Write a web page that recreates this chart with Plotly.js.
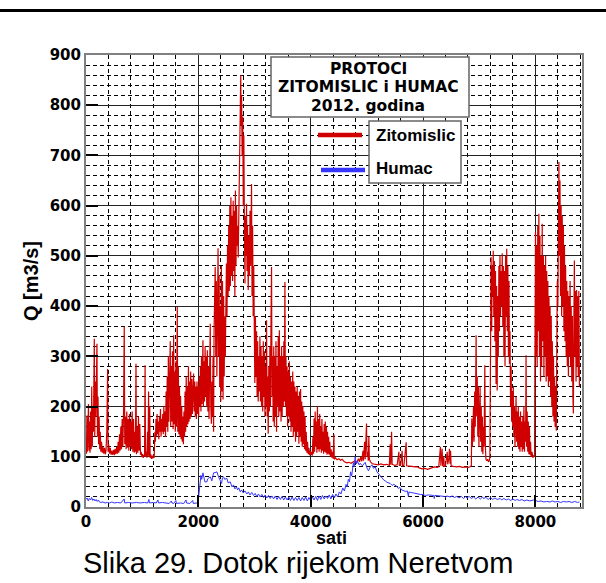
<!DOCTYPE html>
<html>
<head>
<meta charset="utf-8">
<script src="https://cdn.plot.ly/plotly-3.0.1.min.js"></script>
<style>
  html, body { margin: 0; padding: 0; background: #fff; }
  #chart { width: 606px; height: 583px; }
</style>
</head>
<body>
<div id="chart"></div>
<script>
// Hourly discharge, Zitomislic station (hours of 2012, m3/s)
const zitHours = [
  0, 8, 16, 24, 34, 44, 52, 62, 72, 82,
  92, 102, 112, 122, 132, 140, 148, 156, 166, 176,
  186, 195, 204, 214, 224, 234, 244, 254, 264, 276,
  290, 302, 316, 330, 344, 356, 370, 378, 385, 392,
  404, 418, 432, 446, 460, 476, 490, 504, 518, 532,
  546, 560, 572, 584, 596, 608, 620, 632, 644, 656,
  668, 681, 690, 702, 714, 726, 738, 750, 762, 774,
  786, 798, 810, 822, 834, 846, 858, 870, 880, 890,
  898, 910, 922, 934, 946, 958, 970, 982, 994, 1006,
  1018, 1030, 1042, 1052, 1060, 1072, 1084, 1096, 1104, 1114,
  1122, 1134, 1142, 1154, 1166, 1178, 1190, 1202, 1214, 1226,
  1236, 1246, 1256, 1266, 1276, 1286, 1296, 1306, 1316, 1326,
  1336, 1346, 1356, 1366, 1376, 1386, 1396, 1406, 1416, 1426,
  1436, 1446, 1456, 1466, 1476, 1486, 1500, 1508, 1518, 1528,
  1540, 1550, 1560, 1570, 1580, 1590, 1600, 1610, 1616, 1625,
  1634, 1644, 1654, 1664, 1674, 1684, 1694, 1704, 1714, 1724,
  1734, 1744, 1754, 1764, 1774, 1784, 1794, 1804, 1814, 1824,
  1834, 1844, 1854, 1864, 1874, 1884, 1894, 1904, 1915, 1926,
  1936, 1946, 1956, 1966, 1976, 1986, 1996, 2006, 2016, 2026,
  2036, 2046, 2056, 2066, 2076, 2082, 2090, 2100, 2110, 2120,
  2130, 2140, 2150, 2160, 2170, 2180, 2190, 2200, 2212, 2222,
  2232, 2242, 2252, 2262, 2271, 2280, 2290, 2300, 2310, 2320,
  2330, 2340, 2351, 2360, 2370, 2380, 2390, 2400, 2410, 2420,
  2430, 2440, 2450, 2460, 2470, 2480, 2490, 2500, 2510, 2520,
  2530, 2540, 2550, 2560, 2570, 2580, 2590, 2600, 2610, 2620,
  2630, 2640, 2650, 2660, 2670, 2680, 2690, 2700, 2710, 2720,
  2730, 2740, 2755, 2762, 2770, 2780, 2790, 2800, 2810, 2820,
  2830, 2840, 2850, 2858, 2866, 2876, 2888, 2898, 2910, 2920,
  2930, 2947, 2956, 2966, 2976, 2986, 2996, 3006, 3016, 3026,
  3036, 3046, 3056, 3066, 3076, 3086, 3096, 3106, 3116, 3126,
  3136, 3146, 3156, 3166, 3176, 3186, 3196, 3206, 3214, 3224,
  3234, 3244, 3254, 3264, 3274, 3284, 3294, 3303, 3312, 3322,
  3332, 3342, 3352, 3362, 3372, 3382, 3392, 3402, 3412, 3422,
  3432, 3442, 3452, 3462, 3472, 3482, 3492, 3502, 3512, 3522,
  3530, 3541, 3550, 3560, 3570, 3580, 3590, 3600, 3610, 3620,
  3630, 3640, 3650, 3660, 3670, 3680, 3690, 3700, 3710, 3720,
  3730, 3740, 3750, 3760, 3770, 3780, 3790, 3800, 3810, 3820,
  3830, 3840, 3850, 3860, 3870, 3880, 3890, 3900, 3910, 3920,
  3932, 3944, 3956, 3968, 3980, 3992, 4004, 4016, 4028, 4040,
  4050, 4060, 4070, 4080, 4090, 4100, 4110, 4120, 4130, 4140,
  4150, 4160, 4170, 4180, 4190, 4200, 4210, 4220, 4230, 4240,
  4250, 4260, 4270, 4280, 4290, 4300, 4310, 4320, 4330, 4340,
  4352, 4364, 4376, 4390, 4400, 4413, 4420, 4440, 4470, 4500,
  4530, 4560, 4600, 4640, 4680, 4720, 4760, 4790, 4820, 4850,
  4870, 4890, 4910, 4930, 4940, 4960, 4970, 4985, 4994, 5002,
  5015, 5025, 5035, 5045, 5065, 5100, 5150, 5200, 5250, 5300,
  5350, 5400, 5415, 5425, 5440, 5450, 5470, 5500, 5540, 5570,
  5578, 5600, 5628, 5635, 5660, 5700, 5708, 5750, 5800, 5850,
  5900, 5930, 5980, 6030, 6080, 6130, 6162, 6200, 6250, 6280,
  6310, 6318, 6340, 6350, 6370, 6378, 6400, 6430, 6440, 6460,
  6470, 6480, 6490, 6500, 6540, 6600, 6650, 6700, 6750, 6800,
  6840, 6860, 6868, 6878, 6888, 6898, 6908, 6920, 6930, 6945,
  6955, 6965, 6975, 6985, 6995, 7005, 7016, 7026, 7036, 7046,
  7056, 7066, 7076, 7086, 7100, 7110, 7120, 7135, 7150, 7165,
  7180, 7190, 7200, 7212, 7222, 7232, 7241, 7250, 7260, 7270,
  7280, 7290, 7300, 7310, 7320, 7330, 7340, 7350, 7360, 7370,
  7380, 7390, 7400, 7410, 7420, 7430, 7440, 7450, 7460, 7470,
  7480, 7490, 7500, 7510, 7520, 7530, 7538, 7548, 7558, 7568,
  7578, 7588, 7597, 7607, 7617, 7627, 7637, 7647, 7656, 7666,
  7676, 7686, 7696, 7706, 7716, 7726, 7736, 7746, 7756, 7766,
  7776, 7786, 7796, 7806, 7816, 7826, 7834, 7844, 7854, 7864,
  7874, 7884, 7894, 7904, 7914, 7924, 7940, 7955, 7970, 7985,
  7995, 8002, 8012, 8022, 8032, 8042, 8052, 8062, 8072, 8082,
  8092, 8102, 8112, 8122, 8132, 8142, 8152, 8162, 8172, 8182,
  8192, 8202, 8212, 8222, 8232, 8242, 8252, 8262, 8272, 8282,
  8292, 8302, 8312, 8322, 8332, 8342, 8352, 8362, 8372, 8380,
  8390, 8400, 8410, 8419, 8428, 8438, 8448, 8458, 8468, 8478,
  8488, 8498, 8508, 8518, 8528, 8538, 8548, 8558, 8568, 8578,
  8588, 8598, 8608, 8618, 8628, 8638, 8648, 8658, 8668, 8676,
  8686, 8694, 8704, 8714, 8724, 8734, 8744, 8754, 8764, 8774,
  8784
];
const zitQ = [
  118, 106, 182, 110, 150, 205, 112, 170, 108, 190,
  115, 240, 120, 200, 150, 310, 335, 140, 250, 180,
  300, 325, 140, 220, 125, 180, 115, 150, 110, 130,
  108, 120, 106, 118, 105, 112, 150, 250, 275, 110,
  125, 106, 118, 104, 112, 104, 114, 103, 116, 105,
  120, 106, 130, 108, 145, 112, 160, 115, 175, 120,
  185, 360, 125, 180, 115, 190, 118, 175, 112, 185,
  120, 170, 115, 190, 110, 175, 108, 150, 110, 285,
  105, 160, 108, 180, 112, 165, 104, 110, 100, 106,
  98, 104, 100, 282, 100, 110, 98, 150, 102, 230,
  100, 200, 98, 105, 96, 102, 97, 104, 98, 150,
  130, 175, 140, 185, 145, 170, 135, 180, 150, 195,
  140, 175, 150, 185, 145, 200, 150, 190, 140, 230,
  160, 260, 150, 300, 170, 250, 330, 160, 280, 170,
  310, 155, 342, 165, 270, 150, 290, 160, 250, 398,
  150, 280, 145, 240, 140, 220, 135, 200, 130, 180,
  125, 190, 140, 230, 150, 260, 160, 240, 165, 280,
  170, 250, 175, 270, 180, 255, 185, 240, 266, 190,
  250, 180, 240, 175, 250, 185, 240, 180, 260, 200,
  280, 190, 300, 205, 270, 332, 200, 290, 210, 320,
  220, 300, 200, 312, 190, 280, 175, 330, 365, 200,
  166, 250, 180, 300, 150, 350, 420, 478, 300, 450,
  260, 420, 515, 300, 460, 240, 400, 210, 480, 230,
  450, 214, 420, 260, 380, 300, 460, 485, 380, 520,
  420, 560, 430, 600, 440, 617, 460, 580, 450, 610,
  470, 590, 420, 630, 480, 600, 520, 560, 497, 600,
  700, 780, 860, 760, 820, 700, 777, 600, 740, 560,
  445, 580, 500, 604, 470, 560, 432, 540, 460, 590,
  480, 643, 420, 560, 380, 480, 320, 247, 380, 260,
  350, 220, 330, 210, 300, 230, 340, 210, 320, 200,
  300, 190, 330, 220, 310, 180, 280, 200, 372, 180,
  260, 146, 280, 190, 320, 200, 380, 478, 220, 300,
  170, 320, 160, 300, 180, 330, 150, 280, 200, 340,
  180, 352, 190, 300, 170, 320, 180, 300, 200, 330,
  210, 448, 200, 300, 180, 280, 160, 270, 180, 290,
  170, 260, 150, 250, 160, 270, 140, 250, 150, 240,
  130, 230, 140, 240, 150, 220, 126, 230, 140, 235,
  130, 210, 120, 200, 125, 190, 115, 180, 112, 150,
  108, 130, 105, 118, 103, 112, 104, 110, 102, 140,
  106, 176, 110, 190, 120, 170, 108, 200, 115, 175,
  110, 185, 115, 160, 108, 175, 112, 150, 106, 165,
  110, 170, 108, 160, 104, 150, 106, 140, 104, 130,
  100, 115, 98, 110, 96, 145, 95, 98, 94, 96,
  93, 95, 90, 88, 89, 87, 90, 92, 88, 96,
  90, 100, 91, 112, 92, 130, 95, 140, 166, 100,
  110, 92, 140, 95, 90, 86, 85, 84, 86, 84,
  85, 83, 125, 84, 150, 85, 84, 83, 84, 110,
  83, 83, 112, 82, 83, 129, 82, 82, 81, 80,
  80, 78, 76, 77, 75, 77, 79, 80, 79, 80,
  120, 82, 116, 81, 100, 81, 82, 110, 85, 98,
  116, 86, 112, 82, 81, 80, 81, 79, 80, 79,
  80, 82, 176, 120, 150, 199, 130, 230, 160, 342,
  180, 260, 140, 240, 120, 220, 239, 130, 200, 110,
  180, 105, 160, 120, 282, 120, 95, 92, 95, 90,
  92, 100, 300, 498, 350, 480, 420, 510, 380, 490,
  330, 470, 245, 440, 232, 420, 300, 480, 350, 500,
  380, 470, 400, 505, 360, 480, 300, 470, 280, 500,
  380, 514, 350, 480, 300, 450, 285, 350, 200, 280,
  170, 230, 160, 240, 140, 200, 120, 210, 219, 130,
  190, 120, 200, 115, 180, 110, 190, 120, 170, 110,
  180, 115, 200, 110, 170, 130, 302, 120, 190, 110,
  170, 105, 160, 104, 130, 100, 110, 98, 102, 100,
  300, 548, 300, 520, 280, 560, 350, 584, 300, 540,
  250, 500, 280, 564, 330, 500, 260, 480, 300, 500,
  250, 470, 260, 450, 240, 420, 250, 400, 220, 380,
  200, 330, 180, 300, 170, 260, 160, 240, 152, 300,
  450, 400, 600, 687, 500, 650, 420, 600, 380, 580,
  400, 560, 350, 520, 330, 480, 300, 450, 280, 430,
  260, 420, 300, 450, 280, 400, 250, 380, 220, 186,
  380, 491, 300, 430, 250, 432, 280, 420, 260, 430,
  240
];

// Hourly discharge, Humac station (hours of 2012, m3/s)
const humHours = [
  0, 20, 40, 60, 80, 100, 120, 140, 160, 180,
  200, 220, 240, 266, 300, 340, 380, 420, 460, 500,
  560, 620, 680, 690, 760, 820, 900, 960, 1040, 1100,
  1120, 1130, 1200, 1250, 1280, 1290, 1360, 1400, 1480, 1520,
  1530, 1560, 1600, 1610, 1680, 1740, 1780, 1790, 1850, 1900,
  1910, 1960, 1990, 2005, 2020, 2034, 2046, 2060, 2082, 2117,
  2153, 2165, 2212, 2240, 2271, 2313, 2331, 2360, 2390, 2413,
  2430, 2449, 2470, 2508, 2530, 2568, 2600, 2627, 2650, 2680,
  2698, 2720, 2746, 2770, 2800, 2830, 2864, 2890, 2920, 2950,
  2983, 3010, 3040, 3070, 3100, 3130, 3160, 3190, 3220, 3250,
  3280, 3310, 3340, 3370, 3400, 3430, 3460, 3490, 3520, 3550,
  3580, 3610, 3640, 3670, 3700, 3730, 3760, 3790, 3820, 3850,
  3880, 3910, 3940, 3970, 4000, 4030, 4060, 4090, 4120, 4150,
  4180, 4210, 4240, 4270, 4300, 4330, 4360, 4390, 4420, 4450,
  4480, 4510, 4540, 4570, 4600, 4630, 4650, 4670, 4690, 4710,
  4730, 4760, 4775, 4792, 4810, 4830, 4860, 4881, 4920, 4970,
  5000, 5029, 5060, 5089, 5120, 5148, 5180, 5207, 5240, 5267,
  5300, 5326, 5360, 5415, 5450, 5480, 5534, 5560, 5590, 5620,
  5652, 5690, 5720, 5740, 5748, 5771, 5830, 5890, 5950, 6000,
  6040, 6100, 6187, 6200, 6210, 6300, 6380, 6400, 6420, 6483,
  6520, 6560, 6600, 6640, 6680, 6720, 6760, 6780, 6820, 6860,
  6900, 6940, 6980, 7020, 7060, 7076, 7120, 7160, 7200, 7240,
  7280, 7320, 7373, 7400, 7440, 7480, 7520, 7560, 7600, 7640,
  7669, 7720, 7760, 7800, 7850, 7900, 7966, 8000, 8050, 8100,
  8150, 8200, 8262, 8300, 8350, 8400, 8450, 8500, 8559, 8600,
  8650, 8700, 8750, 8784
];
const humQ = [
  15, 18, 12, 17, 14, 19, 13, 16, 12, 15,
  11, 14, 10, 9, 10, 8, 9, 8, 10, 8,
  9, 8, 16, 8, 9, 8, 9, 8, 9, 8,
  15, 8, 9, 8, 14, 8, 9, 8, 7, 12,
  8, 7, 13, 7, 8, 7, 14, 8, 7, 13,
  7, 8, 7, 20, 40, 60, 63, 55, 68, 50,
  50, 56, 60, 52, 68, 69, 70, 60, 53, 47,
  58, 60, 55, 57, 48, 50, 40, 44, 36, 40,
  34, 38, 30, 34, 28, 32, 26, 30, 24, 29,
  23, 27, 21, 26, 20, 25, 19, 24, 18, 23,
  17, 22, 16, 22, 15, 21, 15, 21, 14, 20,
  14, 20, 13, 20, 13, 19, 13, 19, 12, 19,
  13, 20, 12, 19, 13, 20, 14, 21, 13, 22,
  15, 23, 16, 22, 17, 24, 16, 25, 18, 26,
  20, 30, 26, 38, 32, 45, 40, 55, 50, 70,
  62, 88, 80, 100, 86, 92, 84, 87, 82, 89,
  78, 72, 80, 84, 77, 80, 70, 66, 62, 57,
  54, 52, 49, 47, 43, 45, 41, 37, 39, 34,
  33, 31, 32, 21, 30, 29, 28, 26, 25, 25,
  23, 24, 23, 17, 23, 22, 21, 19, 22, 20,
  22, 19, 21, 18, 21, 17, 21, 18, 21, 17,
  20, 16, 20, 16, 20, 17, 19, 15, 19, 15,
  18, 15, 17, 14, 17, 14, 16, 13, 16, 13,
  15, 13, 15, 12, 14, 12, 14, 13, 11, 12,
  10, 11, 10, 12, 10, 11, 9, 11, 10, 11,
  9, 11, 9, 10
];

// Axis ticks and text
const xTicks = [0, 2000, 4000, 6000, 8000];
const yTicks = [0, 100, 200, 300, 400, 500, 600, 700, 800, 900];
const legendTitle = ["PROTOCI", "ZITOMISLIC i HUMAC", "2012. godina"];
const seriesNames = ["Zitomislic", "Humac"];
const seriesColors = ["#d00000", "#3535ff"];
const xTitle = "sati";
const yTitle = "Q [m3/s]";
const caption = "Slika 29. Dotok rijekom Neretvom";

// Page geometry (pixels) of the plotting frame
const W = 606, H = 583;
const frame = { left: 86, right: 582, top: 55, bottom: 507 };
const pw = frame.right - frame.left, ph = frame.bottom - frame.top;
const px = v => (v - frame.left) / pw;     // page x -> paper x
const py = v => (frame.bottom - v) / ph;   // page y -> paper y

const boldTick = { family: "DejaVu Sans, Verdana, sans-serif", size: 15, weight: "bold", color: "#000" };
const boldLabel = { family: "Liberation Sans, Arial, sans-serif", size: 18, weight: "bold", color: "#000" };
const boxTitleFont = { family: "DejaVu Sans, Verdana, sans-serif", size: 15.5, weight: "bold", color: "#000" };
const boxFont = { family: "Liberation Sans, Arial, sans-serif", size: 17, weight: "bold", color: "#000" };

const traces = [
  { x: zitHours, y: zitQ, name: seriesNames[0], type: "scatter", mode: "lines",
    line: { color: seriesColors[0], width: 1.2 } },
  { x: humHours, y: humQ, name: seriesNames[1], type: "scatter", mode: "lines",
    line: { color: seriesColors[1], width: 1 } }
];

const axisCommon = {
  showgrid: true, gridcolor: "#222", gridwidth: 1,
  ticks: "inside", ticklen: 12, tickwidth: 2, tickcolor: "#000",
  showline: true, mirror: true, linecolor: "#808080", linewidth: 2,
  zeroline: false, tickfont: boldTick, fixedrange: true
};

// three stacked title lines inside the title box
const titleLineY = [68.5, 87, 105.5];

const layout = {
  width: W, height: H,
  margin: { l: frame.left, r: W - frame.right, t: frame.top, b: H - frame.bottom, pad: 0 },
  paper_bgcolor: "#fff", plot_bgcolor: "#fff",
  showlegend: false,
  xaxis: Object.assign({}, axisCommon, {
    range: [0, 8830], tickvals: xTicks, ticktext: xTicks.map(String),
    minor: { dtick: 400, tick0: 0, showgrid: true, gridcolor: "#000", gridwidth: 1, griddash: "4px,3px", ticks: "" }
  }),
  yaxis: Object.assign({}, axisCommon, {
    range: [0, 900], tickvals: yTicks, ticktext: yTicks.map(String),
    minor: { dtick: 20, tick0: 0, showgrid: true, gridcolor: "#000", gridwidth: 1, griddash: "4px,3px", ticks: "" },
    title: { text: yTitle, font: Object.assign({}, boldLabel, { size: 20 }), standoff: 6 }
  }),
  shapes: [
    // rule across the top of the page
    { type: "line", xref: "paper", yref: "paper", x0: px(0), x1: px(W), y0: py(10.5), y1: py(10.5),
      line: { color: "#000", width: 3 } },
    // title box
    { type: "rect", xref: "paper", yref: "paper", x0: px(271), x1: px(469), y0: py(117), y1: py(57),
      fillcolor: "#fff", line: { color: "#666", width: 1.5 }, layer: "above" },
    // series names box
    { type: "rect", xref: "paper", yref: "paper", x0: px(369), x1: px(461), y0: py(183), y1: py(121),
      fillcolor: "#fff", line: { color: "#666", width: 1.5 }, layer: "above" },
    // swatches
    { type: "line", xref: "paper", yref: "paper", x0: px(318), x1: px(362), y0: py(135), y1: py(135),
      line: { color: seriesColors[0], width: 4.5 }, layer: "above" },
    { type: "line", xref: "paper", yref: "paper", x0: px(321), x1: px(365), y0: py(170), y1: py(170),
      line: { color: seriesColors[1], width: 4.5 }, layer: "above" }
  ],
  annotations: legendTitle.map((t, i) => ({
      text: t, xref: "paper", yref: "paper", x: px(368), y: py(titleLineY[i]), showarrow: false,
      xanchor: "center", yanchor: "middle", font: boxTitleFont
    })).concat([
    { text: seriesNames[0], xref: "paper", yref: "paper", x: px(374), y: py(135), showarrow: false,
      xanchor: "left", yanchor: "middle", font: boxFont },
    { text: seriesNames[1], xref: "paper", yref: "paper", x: px(374), y: py(169), showarrow: false,
      xanchor: "left", yanchor: "middle", font: boxFont },
    { text: xTitle, xref: "paper", yref: "paper", x: px(331), y: py(538), showarrow: false,
      xanchor: "center", yanchor: "middle", height: 20, font: boldLabel },
    { text: caption, xref: "paper", yref: "paper", x: px(298), y: py(563), showarrow: false,
      xanchor: "center", yanchor: "middle",
      font: { family: "Liberation Sans, Arial, sans-serif", size: 29, color: "#000" } }
  ])
};

Plotly.newPlot("chart", traces, layout, { staticPlot: true, displayModeBar: false });
</script>
</body>
</html>
